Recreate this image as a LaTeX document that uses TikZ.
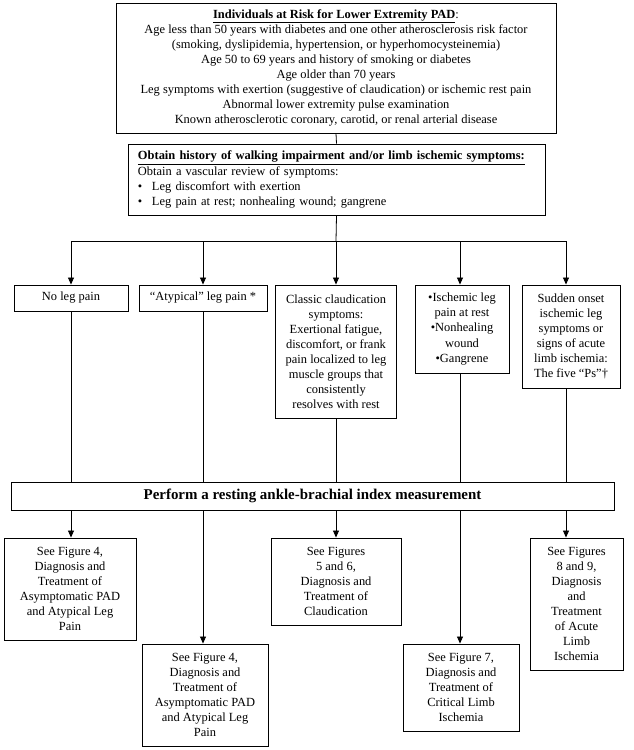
\documentclass[tikz,border=0pt]{standalone}
\usepackage{fontspec}
\setmainfont{Liberation Serif}
\usetikzlibrary{arrows.meta}
\begin{document}
\begin{tikzpicture}[x=1bp,y=-1bp,
  box/.style={draw, line width=0.9bp, inner sep=0pt, align=center, font=\fontsize{12.5}{15.1}\selectfont},
  conn/.style={line width=0.8bp},
  arr/.style={conn, -{Triangle[length=7bp,width=6bp]}}]
\useasboundingbox (0,0) rectangle (634,750);
% top box
\node[box, minimum width=440bp, minimum height=130bp] (top) at (336,68) {%
\underline{\textbf{Individuals at Risk for Lower Extremity PAD}}:\\
Age less than 50 years with diabetes and one other atherosclerosis risk factor\\
(smoking, dyslipidemia, hypertension, or hyperhomocysteinemia)\\
Age 50 to 69 years and history of smoking or diabetes\\
Age older than 70 years\\
Leg symptoms with exertion (suggestive of claudication) or ischemic rest pain\\
Abnormal lower extremity pulse examination\\
Known atherosclerotic coronary, carotid, or renal arterial disease};
% history box
\node[box, align=left, text width=397bp, minimum width=417bp, minimum height=71bp] (hist) at (336.5,179.5) {%
\underline{\textbf{Obtain history of walking impairment and/or limb ischemic symptoms:}}\\
Obtain a vascular review of symptoms:\\
\makebox[14bp][l]{\textbullet}Leg discomfort with exertion\\
\makebox[14bp][l]{\textbullet}Leg pain at rest; nonhealing wound; gangrene};
% branch coordinates
\coordinate (d1) at (71,241);
\coordinate (d2) at (203,241);
\coordinate (d3) at (336,241);
\coordinate (d4) at (460,241);
\coordinate (d5) at (566,241);
% symptom boxes
\node[box, minimum width=114bp, minimum height=26bp] (noleg) at (71,298) {No leg pain};
\node[box, minimum width=128bp, minimum height=26bp] (atyp) at (203,298) {“Atypical” leg pain *};
\node[box, minimum width=121bp, minimum height=133bp] (claud) at (336,351.5) {Classic claudication\\symptoms:\\Exertional fatigue,\\discomfort, or frank\\pain localized to leg\\muscle groups that\\consistently\\resolves with rest};
\node[box, minimum width=94bp, minimum height=88bp] (isch) at (462,329) {\textbullet Ischemic leg\\pain at rest\\\textbullet Nonhealing\\wound\\\textbullet Gangrene};
\node[box, minimum width=98bp, minimum height=103bp] (sudden) at (571,336.5) {Sudden onset\\ischemic leg\\symptoms or\\signs of acute\\limb ischemia:\\The five “Ps”\textdagger};
% ABI box
\node[box, minimum width=603bp, minimum height=28bp, font=\fontsize{15}{17}\selectfont\bfseries] (abi) at (312.5,496) {Perform a resting ankle-brachial index measurement};
% result boxes
\node[box, minimum width=132bp, minimum height=102bp] (figA) at (70,589) {See Figure 4,\\Diagnosis and\\Treatment of\\Asymptomatic PAD\\and Atypical Leg\\Pain};
\node[box, minimum width=126bp, minimum height=102bp] (figB) at (205,695) {See Figure 4,\\Diagnosis and\\Treatment of\\Asymptomatic PAD\\and Atypical Leg\\Pain};
\node[box, minimum width=130bp, minimum height=87bp] (figC) at (336,581.5) {See Figures\\5 and 6,\\Diagnosis and\\Treatment of\\Claudication};
\node[box, minimum width=116bp, minimum height=87bp] (figD) at (461,687.5) {See Figure 7,\\Diagnosis and\\Treatment of\\Critical Limb\\Ischemia};
\node[box, minimum width=93bp, minimum height=132bp] (figE) at (576.5,604) {See Figures\\8 and 9,\\Diagnosis\\and\\Treatment\\of Acute\\Limb\\Ischemia};
% connectors
\draw[conn] (top.south) -- (hist.north);
\draw[conn] (hist.south) -- (d3);
\draw[conn] (d1) -- (d5);
\draw[arr] (d1) -- (d1 |- noleg.north);
\draw[arr] (d2) -- (d2 |- atyp.north);
\draw[arr] (d3) -- (d3 |- claud.north);
\draw[arr] (d4) -- (d4 |- isch.north);
\draw[arr] (d5) -- (d5 |- sudden.north);
\draw[conn] (d1 |- noleg.south) -- (d1 |- abi.north);
\draw[conn] (d2 |- atyp.south) -- (d2 |- abi.north);
\draw[conn] (d3 |- claud.south) -- (d3 |- abi.north);
\draw[conn] (d4 |- isch.south) -- (d4 |- abi.north);
\draw[conn] (d5 |- sudden.south) -- (d5 |- abi.north);
\draw[arr] (d1 |- abi.south) -- (d1 |- figA.north);
\draw[arr] (d2 |- abi.south) -- (d2 |- figB.north);
\draw[arr] (d3 |- abi.south) -- (d3 |- figC.north);
\draw[arr] (d4 |- abi.south) -- (d4 |- figD.north);
\draw[arr] (d5 |- abi.south) -- (d5 |- figE.north);
\end{tikzpicture}
\end{document}
